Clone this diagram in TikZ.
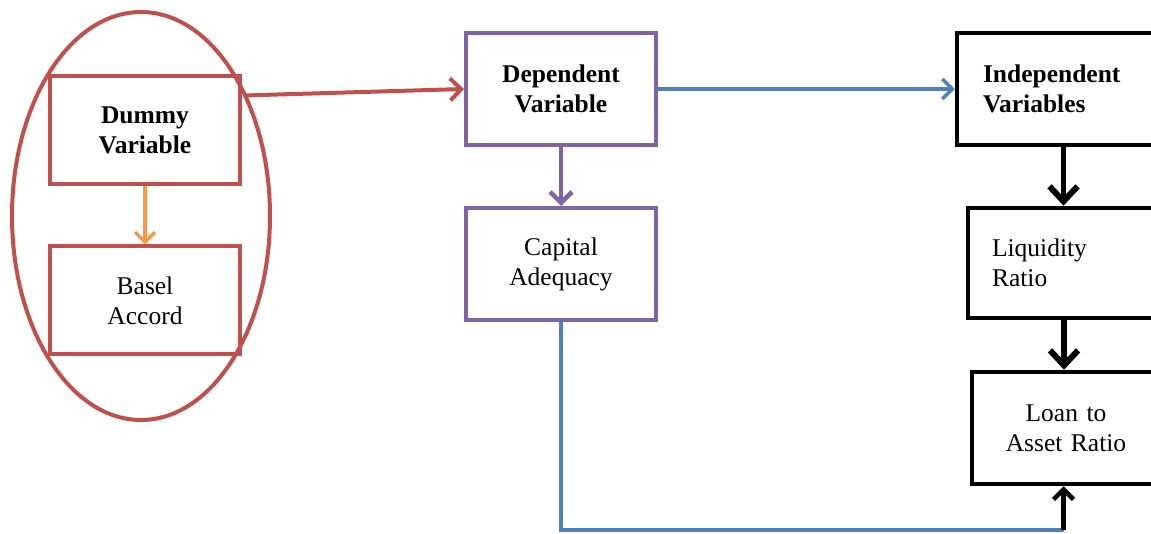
\documentclass[tikz,border=0pt]{standalone}
\usepackage{fontspec}
\setmainfont{Liberation Serif}
\usetikzlibrary{arrows.meta,shapes.geometric,calc}
\definecolor{cred}{HTML}{C0504D}
\definecolor{cpurple}{HTML}{8064A2}
\definecolor{cblue}{HTML}{4F81BD}
\definecolor{corange}{HTML}{F79646}
\begin{document}
\begin{tikzpicture}[x=1pt,y=-1pt,
  box/.style={draw,line width=4pt,rectangle,inner sep=0pt,align=center,
    font=\fontsize{25.5}{30}\selectfont},
  redbox/.style={box,draw=cred,minimum width=190pt,minimum height=108pt},
  purplebox/.style={box,draw=cpurple,minimum width=190pt,minimum height=112pt},
  blackbox/.style={box,draw=black,minimum height=112pt,line width=4.5pt},
  thinarr/.style={line width=3.5pt,-{Straight Barb[length=10pt,width=20pt,line width=3.5pt]}},
  thickarr/.style={line width=5.5pt,-{Straight Barb[length=15pt,width=28pt,line width=6pt]}}
]
\useasboundingbox (0,0) rectangle (1151,534);
\clip (0,0) rectangle (1151,534);

% group ellipse
\node[draw=cred,line width=4pt,ellipse,minimum width=258pt,minimum height=408pt,inner sep=0pt] (grp) at (141,216) {};

% left boxes
\node[redbox,font=\fontsize{25.5}{30}\selectfont\bfseries] (dummy) at (145,130.5) {Dummy\\Variable};
\node[redbox] (basel) at (145,300.5) {Basel\\Accord};

% middle boxes
\node[purplebox,font=\fontsize{25.5}{30}\selectfont\bfseries] (dep) at (561,89) {Dependent\\Variable};
\node[purplebox] (cap) at (561,264) {Capital\\Adequacy};

% right boxes
\node[blackbox,minimum width=213pt,text width=161pt,align=left,
  font=\fontsize{25.5}{30}\selectfont\bfseries] (ind) at (1063.5,89) {Independent\\Variables};
\node[blackbox,minimum width=192pt,minimum height=110pt,text width=144pt,align=left] (liq) at (1064,263) {Liquidity\\Ratio};
\node[blackbox,minimum width=188pt,text width=188pt] (loan) at (1066,428) {Loan to\\Asset Ratio};

% connectors
\draw[cred,line width=4pt,-{Straight Barb[length=11pt,width=22pt,line width=4pt]}]
  ($(dummy.north east)+(2,21)$) -- (dep.west);
\draw[corange,thinarr] (dummy.south) -- (basel.north);
\draw[cpurple,line width=4.5pt,-{Straight Barb[length=11pt,width=22pt,line width=4.5pt]}] (dep.south) -- (cap.north);
\draw[cblue,thinarr] (dep.east) -- (ind.west);
\draw[thickarr] (ind.south) -- (ind.south |- liq.north);
\draw[thickarr] (liq.south) -- (liq.south |- loan.north);
\coordinate (corner) at (1063.5,530);
\draw[cblue,line width=3.5pt] (cap.south) |- (corner);
\draw[line width=4.5pt,-{Straight Barb[length=10pt,width=20pt,line width=4.5pt]}] (corner) -- (corner |- loan.south);
\end{tikzpicture}
\end{document}
